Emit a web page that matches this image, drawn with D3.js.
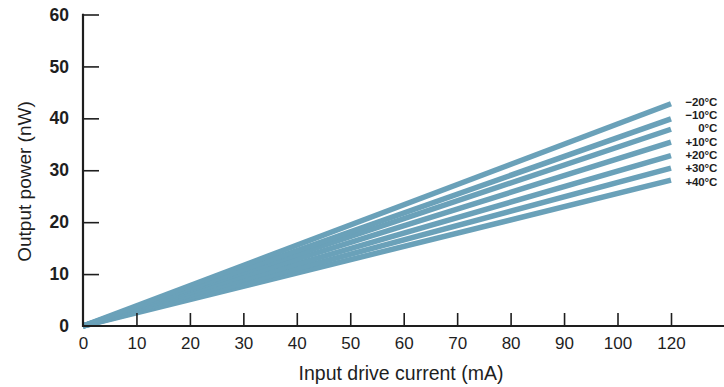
<!DOCTYPE html>
<html>
<head>
<meta charset="utf-8">
<script src="https://cdn.jsdelivr.net/npm/d3@7"></script>
<style>
  html, body { margin: 0; padding: 0; background: #fff; }
  svg { display: block; }
</style>
</head>
<body>
<svg id="chart" width="724" height="387"></svg>
<script>
// ---- data ----
const temperatures = ["\u221220\u00b0C", "\u221210\u00b0C", "0\u00b0C", "+10\u00b0C", "+20\u00b0C", "+30\u00b0C", "+40\u00b0C"];
const currentStart = 0;      // mA
const currentEnd = 120;      // mA
const powerAtEnd = [42.8, 39.9, 37.9, 35.4, 32.8, 30.4, 28.1]; // nW at 120 mA
const xTickValues = [0, 10, 20, 30, 40, 50, 60, 70, 80, 90, 100, 120];
const xTickLabels = ["0", "10", "20", "30", "40", "50", "60", "70", "80", "90", "100", "120"];
const yTickValues = [0, 10, 20, 30, 40, 50, 60];

// ---- layout ----
const svg = d3.select("#chart");
const x0 = 83, yBase = 326, yTop = 14.5;
const x = d3.scaleLinear().domain([0, 100, 120]).range([x0, 617.5, 671]);
const y = d3.scaleLinear().domain([0, 60]).range([yBase, yTop]);

const color = "#6aa1b9";
const axisColor = "#1e1e1e";
const font = "'Liberation Sans', Arial, Helvetica, sans-serif";

// ---- lines ----
const series = temperatures.map((t, i) => ({
  label: t,
  points: [[currentStart, 0], [currentEnd, powerAtEnd[i]]]
}));
const line = d3.line().x(d => x(d[0])).y(d => y(d[1]));

svg.append("g")
  .selectAll("path")
  .data(series.slice().reverse())
  .join("path")
  .attr("d", d => line(d.points))
  .attr("fill", "none")
  .attr("stroke", color)
  .attr("stroke-width", 5.5)
  .attr("stroke-linecap", "butt");

// ---- axes ----
const yAxis = d3.axisLeft(y).tickValues(yTickValues).tickSizeInner(-16).tickSizeOuter(0).tickPadding(14);
const gy = svg.append("g").attr("transform", `translate(${x0},0)`).call(yAxis);
gy.select(".domain").remove();
gy.selectAll("line").attr("stroke", axisColor).attr("stroke-width", 1.6);
gy.selectAll("text").attr("font-family", font).attr("font-size", 17.5).attr("font-weight", "bold").attr("fill", axisColor);
gy.selectAll(".tick").filter(d => d === 0).select("line").remove();

const xAxis = d3.axisBottom(x).tickValues(xTickValues).tickFormat((d, i) => xTickLabels[i])
  .tickSizeInner(-13).tickSizeOuter(0).tickPadding(11);
const gx = svg.append("g").attr("transform", `translate(0,${yBase})`).call(xAxis);
gx.select(".domain").remove();
gx.selectAll("line").attr("stroke", axisColor).attr("stroke-width", 1.6);
gx.selectAll(".tick").filter(d => d === 0).select("line").remove();
gx.selectAll("text").attr("font-family", font).attr("font-size", 17).attr("fill", axisColor);

// axis lines
svg.append("line")
  .attr("x1", x0).attr("x2", x0).attr("y1", y(60) - 0.8).attr("y2", yBase + 1)
  .attr("stroke", axisColor).attr("stroke-width", 2.2);
svg.append("line")
  .attr("x1", x0 - 1).attr("x2", 724).attr("y1", yBase).attr("y2", yBase)
  .attr("stroke", axisColor).attr("stroke-width", 2.2);

// axis titles
svg.append("text")
  .attr("x", 401).attr("y", 380)
  .attr("text-anchor", "middle")
  .attr("font-family", font).attr("font-size", 19.5).attr("fill", axisColor)
  .text("Input drive current (mA)");

svg.append("text")
  .attr("transform", "translate(31,181.5) rotate(-90)")
  .attr("text-anchor", "middle")
  .attr("font-family", font).attr("font-size", 19).attr("fill", axisColor)
  .text("Output power (nW)");

// ---- series labels ----
const labelY = d3.scaleLinear().domain([0, temperatures.length - 1]).range([101.5, 181.5]);
svg.append("g")
  .selectAll("text")
  .data(series)
  .join("text")
  .attr("x", 717)
  .attr("y", (d, i) => labelY(i))
  .attr("dy", "0.35em")
  .attr("text-anchor", "end")
  .attr("font-family", font)
  .attr("font-size", 11.5)
  .attr("font-weight", "bold")
  .attr("letter-spacing", -0.2)
  .attr("fill", axisColor)
  .text(d => d.label);
</script>
</body>
</html>
